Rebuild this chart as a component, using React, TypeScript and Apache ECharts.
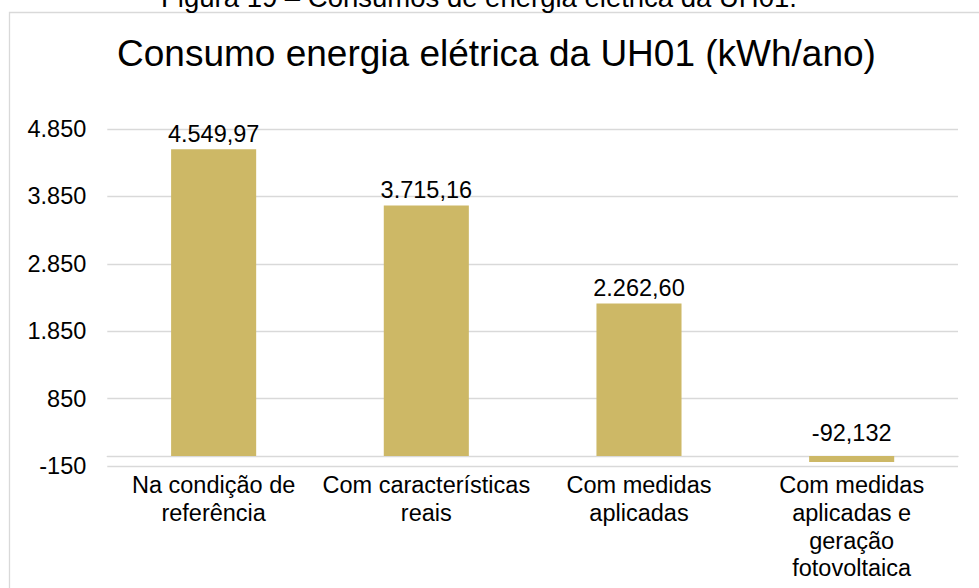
import React, { useEffect, useRef } from "react";
import * as echarts from "echarts";

const categories: string[] = [
  "Na condição de\nreferência",
  "Com características\nreais",
  "Com medidas\naplicadas",
  "Com medidas\naplicadas e\ngeração\nfotovoltaica",
];
const values: number[] = [4549.97, 3715.16, 2262.6, -92.132];
const labelDecimals: number[] = [2, 2, 2, 3];
const yMin = -150;
const yMax = 4850;
const yInterval = 1000;
const chartTitle = "Consumo energia elétrica da UH01 (kWh/ano)";
const figureCaption = "Figura 19 – Consumos de energia elétrica da UH01.";

const FONT = "'Liberation Sans', Arial, sans-serif";
const BAR_COLOR = "#CDB866";
const GRID_COLOR = "#D9D9D9";
const TEXT_COLOR = "#000000";

function fmtPt(v: number, dec: number): string {
  const neg = v < 0;
  const abs = Math.abs(v);
  const fixed = abs.toFixed(dec);
  const [intPart, fracPart] = fixed.split(".");
  const intWithSep = intPart.replace(/\B(?=(\d{3})+(?!\d))/g, ".");
  return (neg ? "-" : "") + intWithSep + (fracPart ? "," + fracPart : "");
}

export default function App() {
  const ref = useRef<HTMLDivElement>(null);
  useEffect(() => {
    if (!ref.current) return;
    const chart = echarts.init(ref.current, undefined, { renderer: "svg" });
    chart.setOption({
      animation: false,
      backgroundColor: "#ffffff",
      textStyle: { fontFamily: FONT },
      grid: {
        left: 107.3,
        right: 21,
        top: 129,
        bottom: 122,
        containLabel: false,
        outerBoundsMode: "none",
      },
      graphic: [
        {
          type: "rect",
          silent: true,
          shape: { x: 9.5, y: 12.5, width: 1000, height: 600 },
          style: { fill: "none", stroke: GRID_COLOR, lineWidth: 1.3 },
        },
        {
          type: "text",
          silent: true,
          x: 479,
          y: -2.8,
          style: {
            text: figureCaption,
            fontFamily: FONT,
            fontSize: 27.5,
            fill: TEXT_COLOR,
            align: "center",
            verticalAlign: "middle",
          },
        },
        {
          type: "text",
          silent: true,
          x: 496.5,
          y: 53.9,
          style: {
            text: chartTitle,
            fontFamily: FONT,
            fontSize: 37,
            fill: TEXT_COLOR,
            align: "center",
            verticalAlign: "middle",
          },
        },
      ],
      xAxis: {
        type: "category",
        data: categories,
        axisLine: { show: true, onZero: true, lineStyle: { color: GRID_COLOR, width: 1.3 } },
        axisTick: { show: false },
        axisLabel: {
          color: TEXT_COLOR,
          fontFamily: FONT,
          fontSize: 23.5,
          lineHeight: 27.8,
          margin: 5,
          interval: 0,
          align: "center",
        },
        splitLine: { show: false },
      },
      yAxis: {
        type: "value",
        min: yMin,
        max: yMax,
        interval: yInterval,
        axisLine: { show: false },
        axisTick: { show: false },
        axisLabel: {
          color: TEXT_COLOR,
          fontFamily: FONT,
          fontSize: 23.5,
          margin: 21,
          formatter: (v: number) => fmtPt(v, 0),
        },
        splitLine: { show: true, lineStyle: { color: GRID_COLOR, width: 1.3 } },
      },
      series: [
        {
          type: "bar",
          data: values.map((v) => ({
            value: v,
            label: {
              distance: v < 0 ? 9 : 1.5,
            },
          })),
          barWidth: "40%",
          itemStyle: { color: BAR_COLOR },
          label: {
            show: true,
            position: "top",
            color: TEXT_COLOR,
            fontFamily: FONT,
            fontSize: 23.5,
            lineHeight: 28,
            formatter: (p: any) => fmtPt(p.value, labelDecimals[p.dataIndex]),
          },
        },
      ],
    });
    return () => chart.dispose();
  }, []);
  return (
    <div
      ref={ref}
      style={{ position: "absolute", left: 0, top: 0, width: 979, height: 588 }}
    />
  );
}
